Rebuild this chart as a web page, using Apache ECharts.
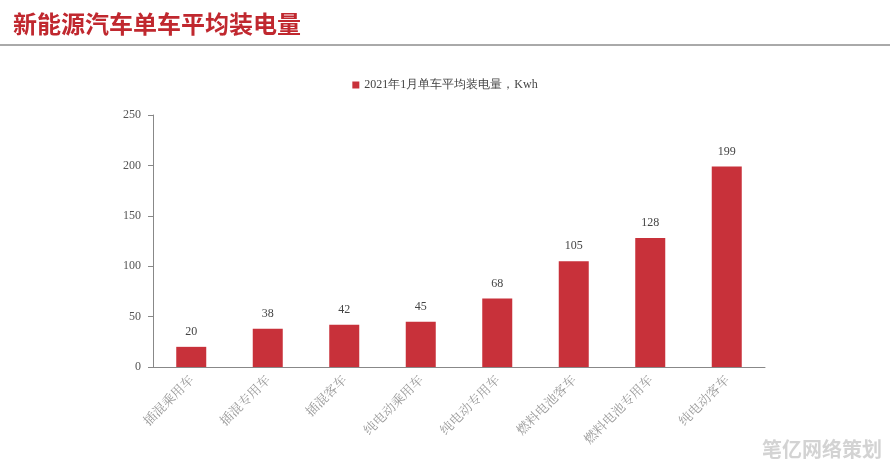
<!DOCTYPE html>
<html><head><meta charset="utf-8">
<script src="https://cdn.jsdelivr.net/npm/echarts@6/dist/echarts.min.js"></script>
<style>html,body{margin:0;padding:0;background:#fff}#c{width:890px;height:465px}</style>
</head><body><div id="c"></div>
<script>
const categories = ['插混乘用车','插混专用车','插混客车','纯电动乘用车','纯电动专用车','燃料电池客车','燃料电池专用车','纯电动客车'];
const values = [20, 38, 42, 45, 68, 105, 128, 199];
const seriesName = '2021年1月单车平均装电量，Kwh';
const chart = echarts.init(document.getElementById('c'));
chart.setOption({
  backgroundColor: '#fff',
  animation: false,
  title: {text: '新能源汽车单车平均装电量', left: 8, top: 7,
    textStyle: {color: '#c0282f', fontSize: 24, fontWeight: 'bold', fontFamily: 'Noto Sans CJK SC'}},
  graphic: [
    {type: 'line', shape: {x1: 0, y1: 45, x2: 890, y2: 45}, style: {stroke: '#555', lineWidth: 1}},
    {type: 'text', right: 8, bottom: 6, style: {text: '笔亿网络策划', fill: 'rgba(200,200,200,0.8)', fontSize: 20, fontWeight: 'bold', fontFamily: 'Noto Sans CJK SC'}}
  ],
  legend: {top: 74, left: 'center', itemWidth: 7, itemHeight: 7, icon: 'rect',
    textStyle: {color: '#444', fontSize: 12, fontFamily: 'Liberation Serif'}},
  grid: {left: 153, right: 125, top: 115, bottom: 98, containLabel: false},
  xAxis: {type: 'category', data: categories,
    axisLine: {lineStyle: {color: '#888'}}, axisTick: {show: false},
    axisLabel: {rotate: 45, color: '#999', fontSize: 13, fontFamily: 'Noto Serif CJK SC, Noto Sans CJK SC', interval: 0, margin: 10}},
  yAxis: {type: 'value', min: 0, max: 250, interval: 50,
    axisLine: {show: true, lineStyle: {color: '#888'}}, axisTick: {show: true, length: 5, lineStyle: {color: '#888'}},
    splitLine: {show: false},
    axisLabel: {color: '#555', fontSize: 12, fontFamily: 'Liberation Serif', margin: 12}},
  series: [{name: seriesName, type: 'bar', data: values, barWidth: 30,
    itemStyle: {color: '#c8313a'},
    label: {show: true, position: 'top', distance: 9, color: '#444', fontSize: 12, fontFamily: 'Liberation Serif'}}]
});
</script></body></html>
